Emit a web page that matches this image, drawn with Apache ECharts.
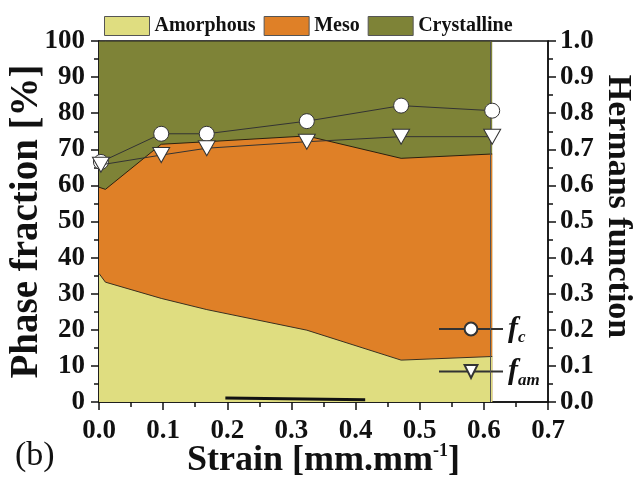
<!DOCTYPE html>
<html>
<head>
<meta charset="utf-8">
<script src="https://cdn.jsdelivr.net/npm/echarts@6/dist/echarts.min.js"></script>
<style>html,body{margin:0;padding:0;background:#fff}#c{width:640px;height:479px}</style>
</head>
<body>
<div id="c"></div>
<script>
// ---- data ----
const strainPhase = [0, 0.01, 0.097, 0.168, 0.324, 0.471, 0.613];
const amorphous   = [35.6, 33.2, 28.7, 25.6, 19.9, 11.6, 12.6];
const meso        = [23.9, 25.7, 42.7, 46.5, 53.8, 55.9, 56.1];
const crystalline = [40.5, 41.1, 28.6, 27.9, 26.3, 32.5, 31.3];

const strainHerman = [0.003, 0.097, 0.168, 0.324, 0.471, 0.613];
const fc  = [0.665, 0.743, 0.743, 0.778, 0.821, 0.807];
const fam = [0.657, 0.684, 0.703, 0.721, 0.735, 0.735];

const traceX = [0.197, 0.415];
const traceY = [1.1, 0.6];

const xTicks = [0, 0.1, 0.2, 0.3, 0.4, 0.5, 0.6, 0.7];
const leftTicks = [0, 10, 20, 30, 40, 50, 60, 70, 80, 90, 100];
const rightTicks = [0, 0.1, 0.2, 0.3, 0.4, 0.5, 0.6, 0.7, 0.8, 0.9, 1.0];

const FONT = '"Liberation Serif", "Times New Roman", serif';
const COL_AM = '#dfdd80', COL_ME = '#df8027', COL_CR = '#7e8337';

const pairs = (xs, ys) => xs.map((x, i) => [x, ys[i]]);
// cumulative tops of the stacked phases
const cumAm = amorphous.slice();
const cumMe = amorphous.map((v, i) => v + meso[i]);
const cumCr = amorphous.map((v, i) => v + meso[i] + crystalline[i]);

const chart = echarts.init(document.getElementById('c'), null, {renderer: 'canvas'});

const axisCommon = {
  nameMoveOverlap: false,
  axisLine: {show: true, lineStyle: {color: '#111', width: 1.5}},
  axisTick: {show: true, inside: false, length: 8, lineStyle: {color: '#111', width: 1.5}},
  minorTick: {show: true, splitNumber: 2, length: 5, lineStyle: {color: '#111', width: 1.5}},
  splitLine: {show: false},
  axisLabel: {fontFamily: FONT, fontWeight: 'bold', fontSize: 27, color: '#111'}
};

chart.setOption({
  animation: false,
  backgroundColor: '#fff',
  grid: {left: 99, right: 92, top: 41, bottom: 77, outerBoundsMode: 'none', containLabel: false,
         show: true, borderColor: '#111', borderWidth: 1.5, backgroundColor: 'transparent'},
  legend: [
    {
      data: [
        {name: 'Amorphous', icon: 'rect'},
        {name: 'Meso', icon: 'rect'},
        {name: 'Crystalline', icon: 'rect'}
      ],
      left: 99, top: 11, itemWidth: 45, itemHeight: 19, itemGap: 8,
      itemStyle: {borderColor: '#555', borderWidth: 1},
      textStyle: {fontFamily: FONT, fontWeight: 'bold', fontSize: 20, color: '#111'}
    },
    {
      data: ['fc', 'fam'],
      orient: 'vertical', left: 433, top: 309, itemWidth: 64, itemHeight: 16, itemGap: 10,
      formatter: function (n) { return n === 'fc' ? '{f|f}{s|c}' : '{f|f}{s|am}'; },
      textStyle: {
        color: '#111',
        rich: {
          f: {fontFamily: FONT, fontStyle: 'italic', fontWeight: 'bold', fontSize: 30, color: '#111'},
          s: {fontFamily: FONT, fontStyle: 'italic', fontWeight: 'bold', fontSize: 17, color: '#111', padding: [18, 0, 0, 0]}
        }
      }
    }
  ],
  xAxis: Object.assign({}, axisCommon, {
    type: 'value', min: 0, max: 0.7, interval: 0.1,
    axisLabel: Object.assign({}, axisCommon.axisLabel, {margin: 16, formatter: v => v.toFixed(1)}),
    name: '{a|Strain [mm.mm}{sup|-1}{a|]}', nameLocation: 'middle', nameGap: 40,
    nameTextStyle: {
      rich: {
        a: {fontFamily: FONT, fontWeight: 'bold', fontSize: 36, color: '#111'},
        sup: {fontFamily: FONT, fontWeight: 'bold', fontSize: 18, color: '#111', padding: [0, 0, 20, 0]}
      }
    }
  }),
  yAxis: [
    Object.assign({}, axisCommon, {
      type: 'value', min: 0, max: 100, interval: 10, position: 'left',
      axisLabel: Object.assign({}, axisCommon.axisLabel, {margin: 14}),
      name: 'Phase fraction [%]', nameLocation: 'middle', nameGap: 53,
      nameTextStyle: {fontFamily: FONT, fontWeight: 'bold', fontSize: 39, color: '#111'}
    }),
    Object.assign({}, axisCommon, {
      type: 'value', min: 0, max: 1, interval: 0.1, position: 'right',
      axisLabel: Object.assign({}, axisCommon.axisLabel, {margin: 12, formatter: v => v.toFixed(1)}),
      name: 'Hermans function', nameLocation: 'middle', nameGap: 53, nameRotate: -90,
      nameTextStyle: {fontFamily: FONT, fontWeight: 'bold', fontSize: 34, color: '#111', padding: [0, 30, 0, 0]}
    })
  ],
  series: [
    {
      name: 'Crystalline', type: 'line', yAxisIndex: 0,
      data: pairs(strainPhase, cumCr), symbol: 'none', showSymbol: false,
      itemStyle: {color: COL_CR},
      lineStyle: {color: '#222', width: 1},
      areaStyle: {color: COL_CR, opacity: 1, origin: 'start'}, z: 1,
      markLine: {
        silent: true, symbol: 'none', label: {show: false},
        lineStyle: {color: '#555', width: 1, type: 'solid'},
        data: [{xAxis: strainPhase[strainPhase.length - 1]}]
      }
    },
    {
      name: 'Meso', type: 'line', yAxisIndex: 0,
      data: pairs(strainPhase, cumMe), symbol: 'none', showSymbol: false,
      itemStyle: {color: COL_ME},
      lineStyle: {color: '#2a2010', width: 1},
      areaStyle: {color: COL_ME, opacity: 1, origin: 'start'}, z: 2
    },
    {
      name: 'Amorphous', type: 'line', yAxisIndex: 0,
      data: pairs(strainPhase, cumAm), symbol: 'none', showSymbol: false,
      itemStyle: {color: COL_AM},
      lineStyle: {color: '#3a3020', width: 1},
      areaStyle: {color: COL_AM, opacity: 1, origin: 'start'}, z: 3
    },
    {
      name: 'trace', type: 'line', yAxisIndex: 0,
      data: pairs(traceX, traceY), symbol: 'none',
      lineStyle: {color: '#111', width: 3}, z: 4
    },
    {
      name: 'fc', type: 'line', yAxisIndex: 1,
      data: pairs(strainHerman, fc), symbol: 'circle', symbolSize: 15,
      itemStyle: {color: '#fff', borderColor: '#333', borderWidth: 1},
      lineStyle: {color: '#333', width: 1}, z: 5
    },
    {
      name: 'fam', type: 'line', yAxisIndex: 1,
      data: pairs(strainHerman, fam), symbol: 'triangle', symbolRotate: 180, symbolSize: [17, 15],
      itemStyle: {color: '#fff', borderColor: '#333', borderWidth: 1},
      lineStyle: {color: '#333', width: 1}, z: 6
    }
  ],
  graphic: [
    {type: 'text', left: 15, top: 439, style: {text: '(b)', fontFamily: FONT, fontSize: 34, fill: '#111'}}
  ]
});
</script>
</body>
</html>
